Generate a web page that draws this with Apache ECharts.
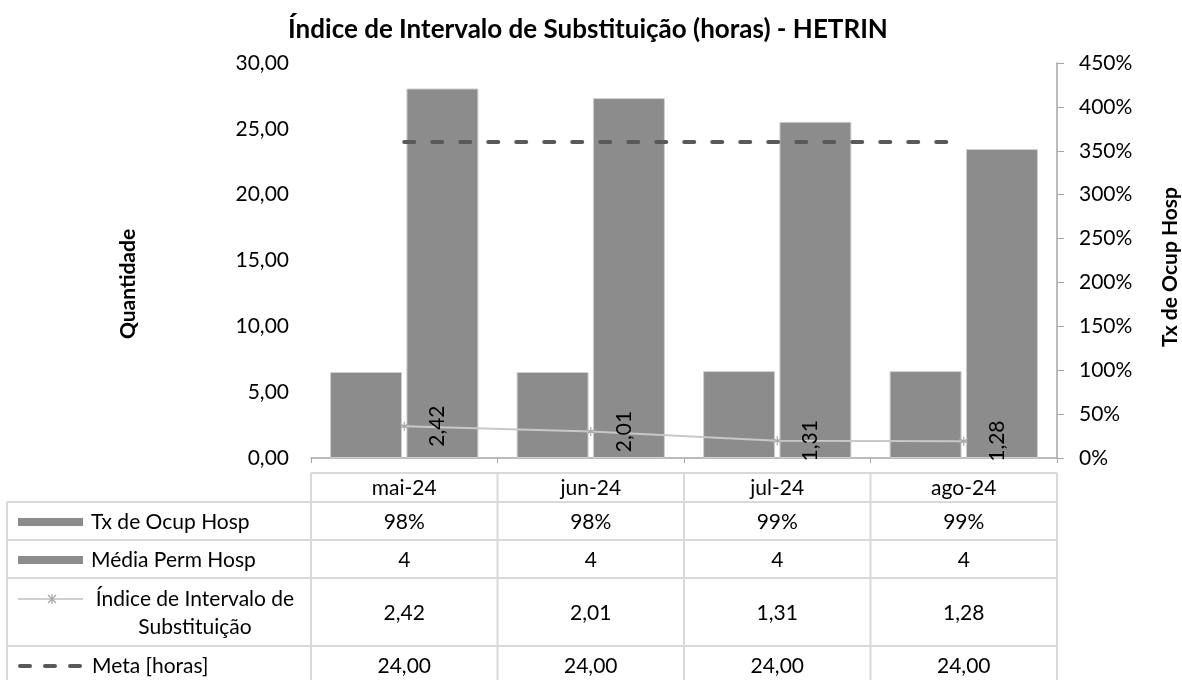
<!DOCTYPE html>
<html>
<head>
<meta charset="utf-8">
<script src="https://cdn.jsdelivr.net/npm/echarts@6/dist/echarts.min.js"></script>
<style>
  html, body { margin: 0; padding: 0; background: #fff; }
  #main { width: 1182px; height: 680px; }
</style>
</head>
<body>
<div id="main"></div>
<script>
// dados
var meses = ['mai-24', 'jun-24', 'jul-24', 'ago-24'];
var txOcupHosp = [0.98, 0.98, 0.99, 0.99];
var mediaPermHosp = [4.21, 4.10, 3.83, 3.52];
var indiceIntervalo = [2.42, 2.01, 1.31, 1.28];
var metaHoras = [24, 24, 24, 24];

var fonte = 'Lato, "Noto Sans", sans-serif';
var tam = 21;

function virgula(v) { return v.toFixed(2).replace('.', ','); }
function pct(v) { return Math.round(v * 100) + '%'; }

// area do grafico e tabela
var gx0 = 311, gx1 = 1057, gTop = 63, gBot = 458;
var colW = (gx1 - gx0) / meses.length;
var linhas = [473, 502, 540, 578, 646, 684];
var corGrade = '#d9d9d9';

var tabela = [
  { nome: 'Tx de Ocup Hosp', chave: 'barra', vals: txOcupHosp.map(pct) },
  { nome: 'Média Perm Hosp', chave: 'barra', vals: mediaPermHosp.map(function (v) { return String(Math.round(v)); }) },
  { nome: 'Índice de Intervalo de\nSubstituição', chave: 'linha', vals: indiceIntervalo.map(virgula) },
  { nome: 'Meta [horas]', chave: 'traco', vals: metaHoras.map(virgula) }
];

function texto(x, y, t, alinh, extra) {
  var st = {
    text: t, fontSize: tam, fontFamily: fonte, fill: '#000',
    align: alinh, textAlign: alinh, verticalAlign: 'middle', textVerticalAlign: 'middle'
  };
  if (extra) for (var k in extra) st[k] = extra[k];
  return { type: 'text', x: x, y: y, style: st, silent: true };
}
function linha(x1, y1, x2, y2, cor, larg, extra) {
  var st = { stroke: cor, lineWidth: larg };
  if (extra) for (var k in extra) st[k] = extra[k];
  return { type: 'line', shape: { x1: x1, y1: y1, x2: x2, y2: y2 }, style: st, silent: true };
}

var graficos = [];
// grade da tabela
graficos.push(linha(gx0, linhas[0], gx1, linhas[0], corGrade, 2));
for (var i = 1; i < linhas.length; i++) graficos.push(linha(7, linhas[i], gx1, linhas[i], corGrade, 2));
graficos.push(linha(7, linhas[1], 7, linhas[5], corGrade, 2));
for (var c = 0; c <= meses.length; c++) {
  graficos.push(linha(gx0 + c * colW, linhas[0], gx0 + c * colW, linhas[5], corGrade, 2));
}
// cabecalho
meses.forEach(function (m, j) {
  graficos.push(texto(gx0 + (j + 0.5) * colW, (linhas[0] + linhas[1]) / 2 + 1, m, 'center'));
});
// linhas da tabela
tabela.forEach(function (r, k) {
  var yc = (linhas[k + 1] + linhas[k + 2]) / 2 + 1;
  if (r.chave === 'barra') {
    graficos.push({ type: 'rect', shape: { x: 18, y: yc - 4, width: 65, height: 8 }, style: { fill: '#8c8c8c' }, silent: true });
    graficos.push(texto(91, yc, r.nome, 'left'));
  } else if (r.chave === 'linha') {
    var yl = yc - 14;
    graficos.push(linha(18, yl, 83, yl, '#bfbfbf', 1.5));
    graficos.push(linha(48, yl - 4, 56, yl + 4, '#a6a6a6', 1.2));
    graficos.push(linha(48, yl + 4, 56, yl - 4, '#a6a6a6', 1.2));
    graficos.push(linha(52, yl - 5, 52, yl + 5, '#a6a6a6', 1.2));
    graficos.push(texto(195, yc, r.nome, 'center', { lineHeight: 28 }));
  } else {
    graficos.push(linha(20, yc, 81, yc, '#595959', 4, { lineDash: [10, 15], lineCap: 'round' }));
    graficos.push(texto(92, yc, r.nome, 'left'));
  }
  r.vals.forEach(function (v, j) {
    graficos.push(texto(gx0 + (j + 0.5) * colW, yc, v, 'center'));
  });
});
// titulos dos eixos
graficos.push({ type: 'text', x: 128, y: 284, rotation: Math.PI / 2, silent: true,
  style: { text: 'Quantidade', fontSize: tam, fontFamily: fonte, fontWeight: 'bold', fill: '#000',
    align: 'center', textAlign: 'center', verticalAlign: 'middle', textVerticalAlign: 'middle' } });
graficos.push({ type: 'text', x: 1170, y: 267, rotation: Math.PI / 2, silent: true,
  style: { text: 'Tx de Ocup Hosp', fontSize: tam, fontFamily: fonte, fontWeight: 'bold', fill: '#000',
    align: 'center', textAlign: 'center', verticalAlign: 'middle', textVerticalAlign: 'middle' } });

var myChart = echarts.init(document.getElementById('main'));

var barraEstilo = { color: '#8c8c8c', borderColor: '#d0d0d0', borderWidth: 1 };

var option = {
  backgroundColor: '#fff',
  animation: false,
  textStyle: { fontFamily: fonte },
  title: {
    text: 'Índice de Intervalo de Substituição (horas) - HETRIN',
    left: 583,
    textAlign: 'center',
    top: 12,
    textStyle: { fontSize: 26, fontWeight: 'bold', color: '#000', fontFamily: fonte }
  },
  grid: { left: gx0, right: 1182 - gx1, top: gTop, bottom: 680 - gBot },
  xAxis: {
    type: 'category',
    data: meses,
    axisLine: { lineStyle: { color: '#a6a6a6', width: 1.5 } },
    axisTick: { show: true, length: 5, lineStyle: { color: '#a6a6a6' } },
    axisLabel: { show: false },
    splitLine: { show: false }
  },
  yAxis: [
    {
      type: 'value', min: 0, max: 30, interval: 5,
      axisLine: { show: false }, axisTick: { show: false }, splitLine: { show: false },
      axisLabel: { formatter: virgula, margin: 22, fontSize: tam, color: '#000', fontFamily: fonte }
    },
    {
      type: 'value', position: 'right', min: 0, max: 4.5, interval: 0.5,
      axisLine: { show: true, lineStyle: { color: '#a6a6a6', width: 1.5 } },
      axisTick: { show: true, length: 7, lineStyle: { color: '#a6a6a6' } },
      splitLine: { show: false },
      axisLabel: { formatter: pct, margin: 22, fontSize: tam, color: '#000', fontFamily: fonte }
    }
  ],
  series: [
    {
      name: 'Tx de Ocup Hosp', type: 'bar', yAxisIndex: 1, data: txOcupHosp,
      barWidth: 72, barGap: '6%', itemStyle: barraEstilo
    },
    {
      name: 'Média Perm Hosp', type: 'bar', yAxisIndex: 1, data: mediaPermHosp,
      barWidth: 72, barGap: '6%', itemStyle: barraEstilo
    },
    {
      name: 'Meta [horas]', type: 'line', yAxisIndex: 0, data: metaHoras, symbol: 'none', z: 4,
      lineStyle: { color: '#595959', width: 4, type: [10, 18], cap: 'round' }
    },
    {
      name: 'Índice de Intervalo de Substituição', type: 'line', yAxisIndex: 0, data: indiceIntervalo, z: 5,
      symbol: 'path://M0,-5L0,5M-4.33,-2.5L4.33,2.5M-4.33,2.5L4.33,-2.5',
      symbolSize: 9,
      lineStyle: { color: '#c8c8c8', width: 2 },
      itemStyle: { color: '#a6a6a6', borderColor: '#a6a6a6', borderWidth: 1.2 },
      label: {
        show: true, position: 'right', distance: 28, rotate: 90,
        align: 'center', verticalAlign: 'middle',
        fontSize: tam, fontFamily: fonte, color: '#000',
        formatter: function (p) { return virgula(p.value); }
      }
    }
  ],
  graphic: graficos
};

myChart.setOption(option);
</script>
</body>
</html>
